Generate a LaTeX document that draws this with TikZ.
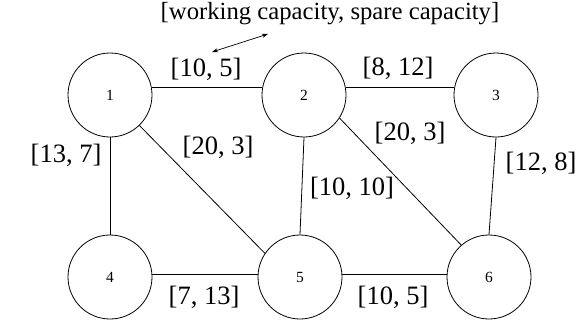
\documentclass[tikz,border=0pt]{standalone}
\usepackage{fontspec}
\setmainfont{Liberation Serif}
\usetikzlibrary{arrows.meta}
\begin{document}
\begin{tikzpicture}[x=1pt,y=-1pt,
  vertex/.style={draw,circle,line width=0.8pt,minimum size=84pt,inner sep=0pt,font=\fontsize{15.5}{18}\selectfont},
  lbl/.style={inner sep=0pt,font=\fontsize{26.5}{30}\selectfont},
  edge/.style={line width=0.8pt}]
\useasboundingbox (0,0) rectangle (581,324);
\node[vertex] (n1) at (110,95) {1};
\node[vertex] (n2) at (304,95) {2};
\node[vertex] (n3) at (496,95) {3};
\node[vertex] (n4) at (110,277) {4};
\node[vertex] (n5) at (300,277) {5};
\node[vertex] (n6) at (489,277) {6};
\draw[edge] (n1.10) -- (n2.170);
\draw[edge] (n2.10) -- (n3.170);
\draw[edge] (n4.4) -- (n5.176);
\draw[edge] (n5.4) -- (n6.176);
\draw[edge] (n1.south) -- (n4.north);
\draw[edge] (n2.south) -- (n5.north);
\draw[edge] (n3.south) -- (n6.north);
\draw[edge] (n1.-46) -- (n5.146);
\draw[edge] (n2.-33) -- (n6.131);
\node[lbl] (l12) at (206,69) {[10, 5]};
\node[lbl] (l23) at (398,68) {[8, 12]};
\node[lbl] (l15) at (218,147) {[20, 3]};
\node[lbl] (l26) at (410,133) {[20, 3]};
\node[lbl] (l36) at (541,163) {[12, 8]};
\node[lbl] (l25) at (352,188) {[10, 10]};
\node[lbl] (l14) at (66,155) {[13, 7]};
\node[lbl] (l45) at (204,297) {[7, 13]};
\node[lbl] (l56) at (393,297) {[10, 5]};
\node[inner sep=0pt,font=\fontsize{24.7}{28}\selectfont] (title) at (330,14) {[working capacity, spare capacity]};
\coordinate (a1) at (212,52);
\coordinate (a2) at (268,34);
\draw[line width=0.7pt,{Stealth[length=6pt,width=4pt]}-{Stealth[length=6pt,width=4pt]}] (a1) -- (a2);
\end{tikzpicture}
\end{document}
